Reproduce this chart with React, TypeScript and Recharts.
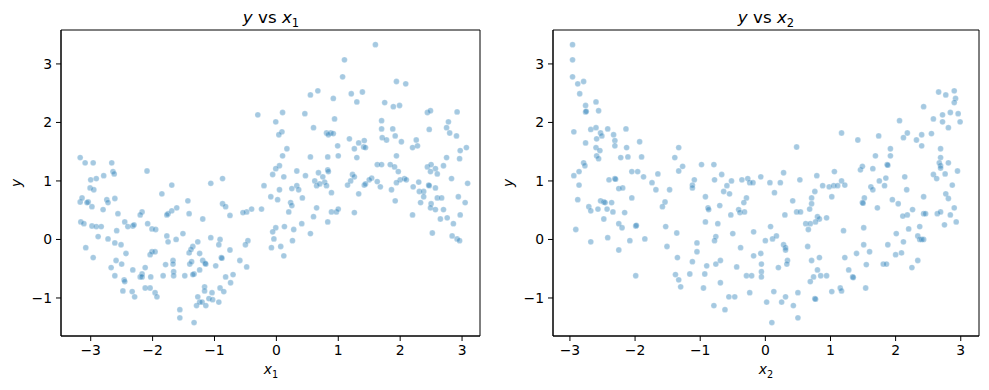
import React from 'react'
import { ScatterChart, Scatter, XAxis, YAxis, ReferenceArea } from 'recharts'

// points: [x, y]
const leftPoints: [number, number][] = [
  [-3.17, 1.4], [-3.09, 1.31], [-2.96, 1.31], [-2.66, 1.31], [-2.09, 1.17], [-2.64, 1.16], [-2.62, 1.12], [-2.79, 1.09], [-3.0, 1.02], [-2.91, 1.04],
  [-0.3, 2.13], [0.1, 2.17], [-0.01, 2.01], [0.09, 1.84], [0.04, 1.79], [0.17, 1.55], [0.1, 1.43], [0.05, 1.26], [-0.01, 1.21], [-0.06, 1.11], [0.12, 1.07], [-0.87, 1.04], [-1.06, 0.96],
  [0.55, 2.47], [0.67, 2.54], [0.92, 2.41], [0.46, 2.15], [0.94, 2.06], [0.6, 1.91], [0.81, 1.82], [0.88, 1.82], [0.84, 1.79], [0.92, 1.81], [0.99, 1.6], [0.55, 1.41], [0.83, 1.41], [1.0, 1.43],
  [0.33, 1.17], [0.47, 1.09], [0.68, 1.14], [0.75, 1.07], [0.83, 1.19], [0.84, 1.16], [0.62, 1.0], [0.78, 0.98],
  [1.6, 3.33], [1.1, 3.07], [1.07, 2.78], [1.94, 2.7], [2.09, 2.66], [1.21, 2.49], [1.39, 2.52], [1.3, 2.35], [1.75, 2.34], [1.89, 2.27], [1.99, 2.29], [2.44, 2.17], [2.49, 2.2], [2.92, 2.18],
  [1.7, 2.03], [1.7, 1.89], [1.88, 1.89], [2.47, 1.88], [2.78, 2.01], [2.75, 1.91], [2.8, 1.82], [2.91, 1.77], [1.92, 1.77], [1.18, 1.72], [1.33, 1.65], [1.42, 1.69], [1.71, 1.74], [1.78, 1.7],
  [2.02, 1.67], [2.26, 1.7], [1.41, 1.58], [1.44, 1.57], [1.26, 1.55], [2.2, 1.57], [2.28, 1.6], [3.07, 1.57], [2.97, 1.52], [1.3, 1.4], [1.94, 1.43], [2.75, 1.4], [2.96, 1.38],
  [1.63, 1.28], [1.7, 1.28], [1.84, 1.28], [1.91, 1.24], [1.97, 1.16], [2.44, 1.24], [2.5, 1.28], [2.57, 1.21], [2.49, 1.16], [2.6, 1.12], [2.7, 1.26], [1.23, 1.11], [1.26, 1.07],
  [1.54, 1.05], [1.5, 1.02], [1.2, 1.0], [1.63, 0.99], [2.0, 1.02], [2.07, 1.04], [2.1, 1.02], [1.94, 0.97], [2.3, 0.98], [2.83, 1.04],
  [-1.69, 0.93], [-3.01, 0.88], [-2.95, 0.85], [-3.17, 0.64], [-3.14, 0.71], [-3.04, 0.64], [-3.06, 0.63], [-2.98, 0.56], [-2.74, 0.68], [-2.72, 0.63], [-2.61, 0.7], [-2.8, 0.51],
  [-1.85, 0.78], [-1.43, 0.66], [-1.41, 0.44], [-1.61, 0.54], [-1.69, 0.49], [-1.75, 0.44], [-1.77, 0.42], [-2.17, 0.47], [-2.2, 0.42], [-2.56, 0.44], [-3.16, 0.3], [-3.11, 0.27],
  [-2.98, 0.23], [-2.91, 0.22], [-2.83, 0.22], [-2.45, 0.3], [-2.4, 0.22], [-2.32, 0.23], [-2.3, 0.25], [-2.08, 0.27], [-2.01, 0.18], [-1.95, 0.17], [-2.58, 0.15], [-2.88, 0.05],
  [-2.72, 0.01], [-2.61, -0.06], [-2.51, -0.09], [-3.08, -0.14], [-2.96, -0.31], [-1.77, 0.06], [-1.75, -0.04], [-1.62, 0.0], [-1.51, 0.1], [-2.43, -0.24], [-2.59, -0.36],
  [-2.5, -0.42], [-2.67, -0.48], [-2.61, -0.62], [-2.32, -0.52], [-2.12, -0.48], [-2.04, -0.26], [-2.01, -0.21], [-1.96, -0.21], [-2.2, -0.64], [-2.17, -0.59], [-2.17, -0.64],
  [-2.03, -0.64], [-2.46, -0.69], [-2.45, -0.72], [-2.48, -0.88], [-2.33, -0.89], [-2.29, -0.98], [-2.12, -0.83], [-2.04, -0.83], [-1.96, -0.91], [-1.93, -0.98], [-1.83, -0.62],
  [-1.79, -0.43], [-1.67, -0.36], [-1.67, -0.42], [-1.66, -0.55], [-1.66, -0.62], [-1.48, -0.62], [-1.56, -1.2], [-1.56, -1.34], [-1.33, -1.42], [-1.27, -0.04], [-1.35, -0.12],
  [-1.41, -0.23], [-1.38, -0.17], [-1.4, -0.42], [-1.37, -0.38], [-1.33, -0.59], [-1.35, -0.6], [-1.27, -0.98], [-1.29, -1.13], [-1.24, -1.07], [-1.24, -0.24], [-1.24, -0.52],
  [-0.2, 0.92], [0.05, 0.85], [0.25, 0.87], [0.33, 0.92], [0.36, 0.85], [0.65, 0.92], [0.7, 0.95], [0.81, 0.92], [0.89, 0.8], [-0.09, 0.73], [0.02, 0.68], [0.23, 0.63], [0.25, 0.58],
  [0.42, 0.71], [0.2, 0.47], [0.65, 0.54], [0.6, 0.39], [0.89, 0.47], [0.97, 0.47], [1.0, 0.52], [0.83, 0.3], [0.41, 0.27], [0.13, 0.22], [-0.01, 0.2], [-0.06, 0.13], [0.28, 0.17],
  [0.55, 0.1], [-0.04, 0.01], [0.26, -0.02], [-0.08, -0.14], [0.07, -0.12], [0.12, -0.28], [-0.24, 0.52], [-0.4, 0.52], [-0.48, 0.47], [-0.54, 0.46], [-0.87, 0.61], [-0.82, 0.56],
  [-0.75, 0.41], [-1.19, 0.35], [-1.06, 0.03], [-0.91, 0.0], [-0.93, -0.09], [-0.46, -0.02], [-0.5, -0.09], [-0.75, -0.18], [-1.19, -0.36], [-1.14, -0.42], [-1.15, -0.41],
  [-0.89, -0.31], [-0.88, -0.32], [-0.98, -0.45], [-0.59, -0.36], [-0.48, -0.47], [-0.82, -0.64], [-0.7, -0.6], [-0.74, -0.74], [-1.16, -0.81], [-1.16, -0.88], [-0.91, -0.83],
  [-0.85, -0.89], [-1.04, -0.91], [-1.09, -1.01], [-1.03, -1.03], [-0.93, -1.07], [-1.2, -1.07], [-1.14, -1.13],
  [1.15, 0.93], [1.42, 0.93], [1.44, 0.95], [1.68, 0.9], [1.86, 0.85], [2.21, 0.9], [2.46, 0.93], [2.47, 0.92], [2.57, 0.88], [3.09, 0.96], [1.33, 0.78], [1.26, 0.46], [1.92, 0.66],
  [2.31, 0.82], [2.38, 0.82], [2.38, 0.73], [2.33, 0.63], [2.6, 0.71], [2.67, 0.71], [2.94, 0.73], [3.05, 0.63], [2.5, 0.61], [2.49, 0.54], [2.57, 0.51], [2.7, 0.51], [2.2, 0.42],
  [2.65, 0.35], [2.76, 0.37], [2.97, 0.42], [2.86, 0.27], [2.52, 0.11], [2.84, 0.06], [2.92, 0.01], [2.96, -0.02],
]

const rightPoints: [number, number][] = [
  [-2.96, 3.33], [-2.96, 3.07], [-2.96, 2.78], [-2.88, 2.66], [-2.79, 2.7], [-2.85, 2.49], [-2.76, 2.29], [-2.6, 2.35], [-2.76, 2.18], [-2.75, 2.19], [-2.56, 2.2], [-2.94, 1.84],
  [-2.76, 1.65], [-2.68, 1.88], [-2.6, 1.91], [-2.53, 1.82], [-2.51, 1.77], [-2.59, 1.72], [-2.42, 1.89], [-2.33, 1.79], [-2.31, 1.69], [-2.31, 1.6], [-2.14, 1.89], [-2.13, 1.57],
  [-1.93, 1.67], [-2.6, 1.57], [-2.54, 1.52], [-2.59, 1.43], [-2.56, 1.38], [-2.22, 1.4], [-2.11, 1.41], [-1.9, 1.41], [-2.79, 1.31], [-2.77, 1.26], [-2.94, 1.09], [-2.86, 1.16],
  [-2.05, 1.16], [-1.96, 1.16], [-1.87, 1.07], [-1.65, 1.12], [-2.4, 1.02], [-2.31, 1.04], [-2.3, 1.03], [-1.74, 0.97], [-1.39, 1.4], [-1.33, 1.57], [-1.33, 1.17], [-1.27, 1.25],
  [-1.09, 1.02],
  [0.48, 1.58], [-0.98, 1.28], [-0.79, 1.28], [-0.67, 1.11], [-0.78, 1.02], [-0.52, 1.0], [-0.36, 1.02], [-0.27, 1.04], [-0.24, 0.97], [-0.19, 0.97], [-0.07, 1.07], [0.07, 0.97],
  [0.23, 0.97], [0.28, 1.14], [0.53, 1.02], [0.79, 1.09], [1.06, 1.16],
  [2.66, 2.52], [2.77, 2.47], [2.9, 2.54], [2.92, 2.41], [2.9, 2.34], [2.43, 2.27], [2.06, 2.03], [2.58, 2.06], [2.72, 2.13], [2.72, 2.01], [2.84, 2.17], [2.96, 2.15], [2.99, 2.01],
  [2.81, 1.91], [1.17, 1.82], [1.42, 1.7], [1.74, 1.77], [2.12, 1.74], [2.18, 1.82], [2.32, 1.7], [2.4, 1.79], [2.55, 1.81], [2.4, 1.6], [1.92, 1.55], [1.92, 1.43], [1.69, 1.43],
  [2.69, 1.55], [2.69, 1.4], [2.67, 1.31], [2.69, 1.26], [2.69, 1.22], [2.81, 1.31], [2.95, 1.17], [2.76, 1.12], [2.58, 1.11], [2.63, 1.04], [1.87, 1.28], [1.88, 1.27], [1.65, 1.21],
  [1.46, 1.19], [1.49, 1.25], [1.17, 1.0], [1.75, 1.0], [1.85, 1.05], [2.14, 1.07],
  [-2.86, 0.93], [-2.25, 0.87], [-2.19, 0.88], [-1.68, 0.85], [-1.47, 0.85], [-1.12, 0.93], [-1.12, 0.88], [-2.88, 0.68], [-2.05, 0.71], [-2.71, 0.56], [-2.68, 0.49], [-2.57, 0.52],
  [-2.53, 0.66], [-2.48, 0.64], [-2.46, 0.63], [-2.36, 0.63], [-2.43, 0.52], [-2.34, 0.47], [-2.16, 0.46], [-2.48, 0.35], [-2.25, 0.27], [-2.2, 0.2], [-1.99, 0.23], [-1.98, 0.24],
  [-2.91, 0.17], [-2.68, -0.04], [-2.42, 0.03], [-2.25, -0.18], [-2.08, -0.02], [-1.85, 0.01], [-1.99, -0.62], [-1.54, 0.64], [-1.58, 0.56], [-1.53, 0.22], [-1.36, 0.11],
  [-1.51, -0.12], [-1.35, -0.31], [-1.12, -0.38], [-1.38, -0.6], [-1.33, -0.69], [-1.3, -0.81], [-1.16, -0.59],
  [-0.59, 0.92], [-0.64, 0.82], [-0.55, 0.78], [-0.92, 0.73], [0.14, 0.8], [0.88, 0.92], [0.98, 0.9], [1.05, 0.92], [0.76, 0.82], [1.02, 0.73], [-0.29, 0.71], [-0.33, 0.63],
  [0.42, 0.66], [0.71, 0.71], [0.71, 0.61], [0.68, 0.52], [-0.88, 0.54], [-0.87, 0.51], [-0.7, 0.58], [-0.41, 0.51], [-0.39, 0.46], [-0.32, 0.47], [-0.53, 0.42], [0.3, 0.42],
  [0.48, 0.47], [0.54, 0.47], [0.8, 0.39], [0.83, 0.35], [0.94, 0.37], [0.62, 0.27], [0.69, 0.27], [0.77, 0.3], [0.66, 0.17], [-0.92, 0.3], [-0.73, 0.27], [0.08, 0.22],
  [-0.5, 0.1], [-0.18, 0.13], [-0.76, 0.05], [-0.78, -0.02], [0.11, 0.01], [0.17, 0.06], [0.0, -0.02], [0.28, -0.09], [0.31, -0.14], [0.31, -0.18], [0.65, -0.12], [-1.05, -0.06],
  [-1.05, -0.21], [-0.38, -0.14], [-0.18, -0.28], [-0.07, -0.24], [-0.9, -0.45], [-0.76, -0.42], [-0.69, -0.36], [-0.44, -0.47], [-0.06, -0.42], [0.34, -0.36], [0.33, -0.42],
  [0.2, -0.48], [0.71, -0.36], [0.83, -0.31], [0.8, -0.52], [0.74, -0.64], [0.85, -0.62], [0.94, -0.62], [0.69, -0.72], [-0.93, -0.59], [-0.29, -0.62], [-0.21, -0.62],
  [-0.06, -0.55], [-0.06, -0.64], [-0.69, -0.74], [-0.95, -0.83], [-0.24, -0.91], [-0.56, -0.98], [-0.47, -0.98], [0.13, -0.89], [0.5, -0.91], [0.31, -0.98], [0.25, -1.07],
  [0.02, -1.07], [0.76, -1.01], [0.77, -1.02], [1.02, -0.89], [-0.79, -1.13], [-0.62, -1.2], [0.43, -1.13], [0.5, -1.34], [0.1, -1.42],
  [1.11, 0.92], [1.22, 0.93], [1.62, 0.9], [1.65, 0.85], [1.83, 0.92], [2.17, 0.85], [2.87, 0.93], [2.77, 0.78], [2.81, 0.7], [2.9, 0.54], [2.43, 0.73], [1.52, 0.71], [1.49, 0.63],
  [1.5, 0.62], [1.95, 0.68], [2.04, 0.61], [1.72, 0.54], [2.26, 0.51], [2.18, 0.42], [2.11, 0.4], [2.43, 0.44], [2.46, 0.44], [2.64, 0.44], [2.69, 0.47], [2.84, 0.42], [2.93, 0.3],
  [2.75, 0.25], [1.2, 0.15], [1.51, 0.2], [2.2, 0.18], [2.37, 0.22], [2.01, 0.1], [2.34, 0.06], [2.37, 0.0], [2.4, 0.0], [2.43, 0.0], [2.12, -0.04], [1.51, -0.09], [1.88, -0.09],
  [2.0, -0.26], [2.09, -0.23], [1.6, -0.21], [1.4, -0.24], [1.22, -0.31], [1.81, -0.42], [1.86, -0.42], [1.55, -0.43], [2.34, -0.36], [2.25, -0.48], [1.28, -0.52], [1.34, -0.64],
  [1.35, -0.65], [1.15, -0.83], [1.17, -0.88], [1.54, -0.83],
]

const xTicks = [-3, -2, -1, 0, 1, 2, 3]
const yTicks = [-1, 0, 1, 2, 3]
const yDomain: [number, number] = [-1.65, 3.58]
const leftXDomain: [number, number] = [-3.48, 3.29]
const rightXDomain: [number, number] = [-3.26, 3.28]

const FONT = '"DejaVu Sans", sans-serif'
const tickStyle = { fill: '#000', fontSize: 13.9, fontFamily: FONT }
const fmt = (v: number) => String(v).replace('-', '\u2212')

const Dot = (props: any) => (
  <circle
    cx={props.cx}
    cy={props.cy}
    r={2.9}
    fill="#1f77b4"
    fillOpacity={0.4}
    stroke="#ffffff"
    strokeOpacity={0.35}
    strokeWidth={0.6}
  />
)

function Panel({ points, xDomain, left, width }: { points: [number, number][]; xDomain: [number, number]; left: number; width: number }) {
  const data = points.map(([x, y]) => ({ x, y }))
  return (
    <div style={{ position: 'absolute', left, top: 0 }}>
      <ScatterChart width={width} height={390} margin={{ top: 30, right: 10, bottom: 0, left: 0 }}>
        <XAxis
          type="number"
          dataKey="x"
          domain={xDomain}
          ticks={xTicks}
          allowDataOverflow
          tickFormatter={fmt}
          tick={tickStyle}
          tickSize={5}
          tickMargin={4}
          height={54}
          stroke="#000"
        />
        <YAxis
          type="number"
          dataKey="y"
          domain={yDomain}
          ticks={yTicks}
          allowDataOverflow
          tickFormatter={fmt}
          tick={tickStyle}
          tickSize={5}
          tickMargin={4}
          width={61}
          stroke="#000"
        />
        <ReferenceArea x1={xDomain[0]} x2={xDomain[1]} y1={yDomain[0]} y2={yDomain[1]} fill="none" stroke="#000" strokeWidth={1} />
        <Scatter data={data} shape={Dot} isAnimationActive={false} />
      </ScatterChart>
    </div>
  )
}

const labelStyle: React.CSSProperties = { position: 'absolute', fontFamily: FONT, color: '#000', whiteSpace: 'nowrap' }

export default function App() {
  return (
    <div style={{ position: 'absolute', left: 0, top: 0, width: 989, height: 390, background: '#fff' }}>
      <Panel points={leftPoints} xDomain={leftXDomain} left={0} width={490} />
      <Panel points={rightPoints} xDomain={rightXDomain} left={492} width={497} />

      <div style={{ ...labelStyle, left: 271, top: 7, fontSize: 16.7, transform: 'translateX(-50%)' }}>
        <i>y</i> vs <i>x</i><sub style={{ fontSize: 11.5 }}>1</sub>
      </div>
      <div style={{ ...labelStyle, left: 766, top: 7, fontSize: 16.7, transform: 'translateX(-50%)' }}>
        <i>y</i> vs <i>x</i><sub style={{ fontSize: 11.5 }}>2</sub>
      </div>

      <div style={{ ...labelStyle, left: 271, top: 361, fontSize: 13.9, transform: 'translateX(-50%)' }}>
        <i>x</i><sub style={{ fontSize: 9.7 }}>1</sub>
      </div>
      <div style={{ ...labelStyle, left: 766, top: 361, fontSize: 13.9, transform: 'translateX(-50%)' }}>
        <i>x</i><sub style={{ fontSize: 9.7 }}>2</sub>
      </div>

      <div style={{ ...labelStyle, left: 16, top: 183, fontSize: 13.9, transform: 'translate(-50%, -50%) rotate(-90deg)' }}>
        <i>y</i>
      </div>
      <div style={{ ...labelStyle, left: 508, top: 183, fontSize: 13.9, transform: 'translate(-50%, -50%) rotate(-90deg)' }}>
        <i>y</i>
      </div>
    </div>
  )
}
